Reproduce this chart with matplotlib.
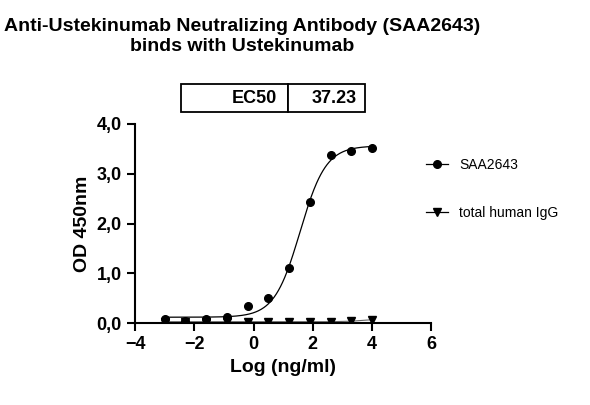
import matplotlib
matplotlib.use("Agg")
from matplotlib import pyplot as plt
from matplotlib.lines import Line2D
import numpy as np

plt.rcParams['font.family'] = ['Liberation Sans', 'DejaVu Sans']

log_conc = [-3.0, -2.3, -1.6, -0.9, -0.2, 0.5, 1.2, 1.9, 2.6, 3.3, 4.0]
saa2643 = [0.08, 0.05, 0.08, 0.13, 0.34, 0.50, 1.11, 2.44, 3.38, 3.46, 3.52]
igg = [0.03, 0.03, 0.03, 0.03, 0.03, 0.03, 0.03, 0.03, 0.03, 0.04, 0.07]
# fitted 4PL parameters
bottom, top, log_ec50, hill = 0.12, 3.56, np.log10(37.23), 1.0

fig = plt.figure(figsize=(5.9, 4.05), dpi=100)
ax = fig.add_axes([0.229, 0.202, 0.502, 0.492])

xs = np.linspace(-3.0, 4.0, 300)
ax.plot(xs, bottom + (top - bottom) / (1 + 10 ** ((log_ec50 - xs) * hill)), color='black', lw=0.9)
ax.plot(log_conc, igg, color='0.4', lw=0.8)
ax.plot(log_conc, saa2643, 'o', color='black', ms=5.5)
ax.plot(log_conc, igg, 'v', color='black', ms=5.5)

ax.set_xlim(-4, 6)
ax.set_ylim(0, 4)
ax.set_xticks([-4, -2, 0, 2, 4, 6])
ax.set_yticks([0, 1, 2, 3, 4])
ax.set_yticklabels(['0,0', '1,0', '2,0', '3,0', '4,0'])
for s in ['top', 'right']:
    ax.spines[s].set_visible(False)
for s in ['left', 'bottom']:
    ax.spines[s].set_linewidth(1.5)
ax.tick_params(width=1.5, length=6, labelsize=13)
for lab in ax.get_xticklabels() + ax.get_yticklabels():
    lab.set_fontweight('bold')
ax.set_xlabel('Log (ng/ml)', fontsize=14, fontweight='bold')
ax.set_ylabel('OD 450nm', fontsize=14, fontweight='bold')

handles = [Line2D([], [], color='black', marker='o', ms=5.5, lw=0.9),
           Line2D([], [], color='black', marker='v', ms=5.5, lw=0.9)]
fig.legend(handles, ['SAA2643', 'total human IgG'], loc='upper left',
           bbox_to_anchor=(0.70, 0.64), frameon=False, fontsize=10,
           handlelength=1.6, labelspacing=2.4)

fig.text(0.41, 0.955, 'Anti-Ustekinumab Neutralizing Antibody (SAA2643)\nbinds with Ustekinumab',
         ha='center', va='top', fontsize=14, fontweight='bold', linespacing=1.2)

tab = ax.table(cellText=[['EC50', '37.23']], cellLoc='right',
               colWidths=[0.36, 0.26], bbox=[0.155, 1.06, 0.62, 0.14])
tab.auto_set_font_size(False)
for cell in tab.get_celld().values():
    cell.set_linewidth(1.3)
    cell.get_text().set_fontsize(13)
    cell.get_text().set_fontweight('bold')

fig.savefig('out.png', dpi=100)
